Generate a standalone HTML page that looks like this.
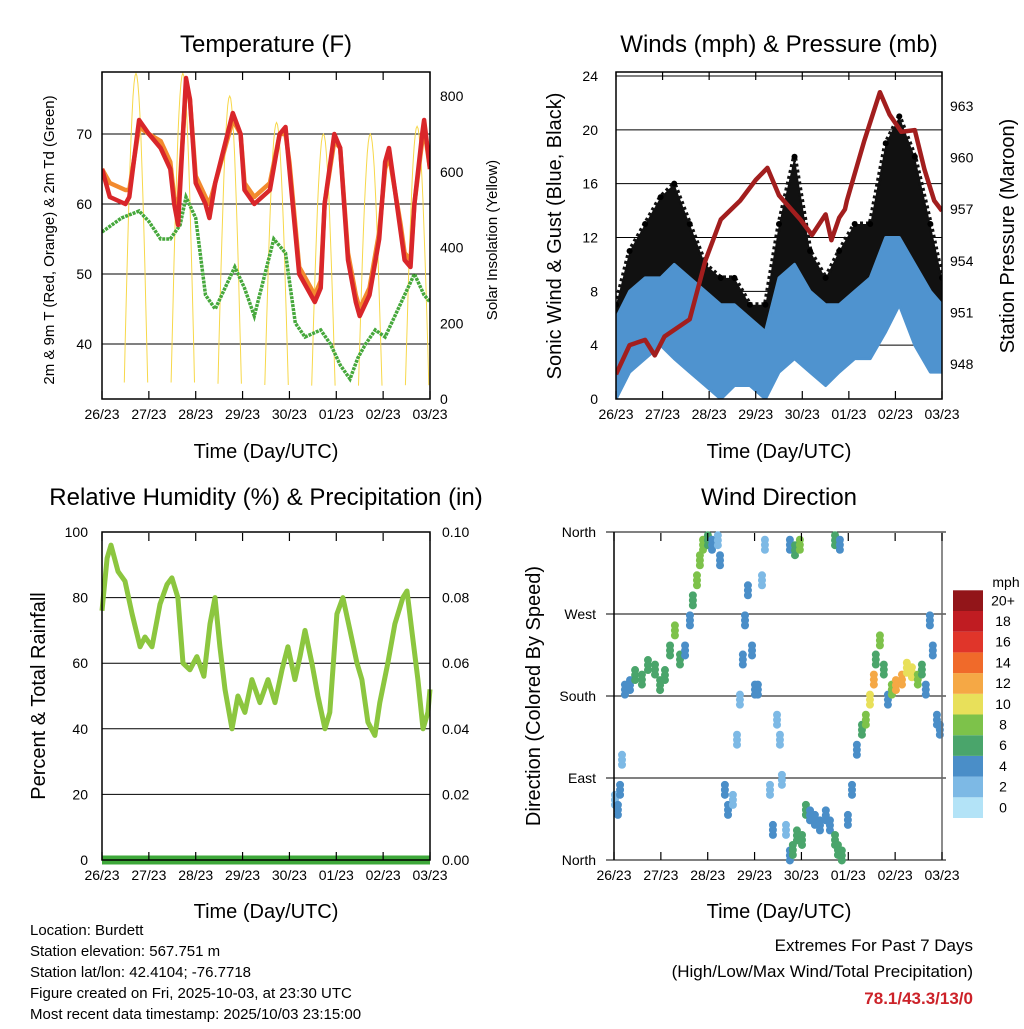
<!DOCTYPE html>
<html><head><meta charset="utf-8"><style>
body{margin:0;background:#fff;}
svg{font-family:"Liberation Sans",sans-serif;}
</style></head><body>
<svg id="c" width="1024" height="1024" viewBox="0 0 1024 1024" xmlns="http://www.w3.org/2000/svg"></svg>
<script>
// ---------- DATA ----------
const dayLabels=["26/23","27/23","28/23","29/23","30/23","01/23","02/23","03/23"];
const tHours=[0,4,12,14,19,24,30,35,37,39,43,45,48,53,55,58,67,71,73,78,86,91,94,96,101,109,112,114,119,122,126,130,132,137,142,145,147,150,153,155,158,160,164,165,168];
const tRed=[65,61,60,61,72,70,68,65,60,57,78,75,63,60,58,63,73,70,62,60,62,70,71,65,50,46,48,60,70,68,52,46,44,47,55,66,68,62,56,52,51,60,70,72,65];
const tOrange=[65,63,62,62,71,70,69,66,61,59,77,75,64,61,60,63,72,70,63,61,63,70,70,66,51,47,49,60,69,68,53,47,45,48,56,65,67,62,57,53,52,60,69,71,65];
const tdHours=[0,5,10,19,24,30,35,40,43,48,53,58,63,68,73,78,88,94,99,104,112,117,122,127,131,135,140,145,150,155,160,165,168];
const tdGreen=[56,57,58,59,57.5,55,55,57,61,58,47,45,48,51,48,44,55,53,43,41,42,40,37,35,38,40,42,41,44,47,50,47,46];
const solarPeakHours=[-6.6,17.4,41.4,65.4,89.4,113.4,137.4,161.4];
const solarPeaks=[850,860,860,800,730,700,700,720];
const wHours=[0,7,15,23,30,38,46,54,61,69,77,84,92,100,108,115,123,131,139,146,154,162,168];
const gustHi=[7,11,13,15,16,13,10,9,9,7,7,13,18,11,9,11,13,13,19,21,18,13,9];
const gustLo=[3,5,7,8,8,5,3,2,4,3,2,6,8,5,4,5,6,7,9,12,8,6,5];
const windHi=[6,8,9,9,10,9,8,7,7,6,5,9,10,8,7,7,8,9,12,12,10,8,7];
const windLo=[0,2,3,4,3,2,1,0,1,1,0,2,3,2,1,2,3,3,5,7,4,2,2];
const pHours=[0,7,15,20,25,38,46,54,64,72,78,84,95,101,108,111,115,118,119,128,136,141,147,154,159,164,168];
const pres=[947.4,949.1,949.4,948.5,949.6,950.6,954,956.4,957.5,958.7,959.4,957.8,956.4,955.5,956.7,955.2,956.5,957,957.5,961,963.8,962.5,961.5,961.6,959.3,957.5,956.9];
const rhHours=[0,2.6,4.6,8.2,11.8,15.4,19.5,22,25.6,29.7,33.3,35.8,38.9,41.5,45,48.6,52.2,55.3,57.9,60.4,63,66.6,69.6,73.2,76.8,80.9,85,88.6,92.2,95.2,98.8,101.4,104,107.5,110.6,114.2,116.7,120.3,123.4,127,130.6,133.1,136.2,139.8,142.3,146.4,150,154.1,156.2,158.7,161.8,164.4,166.9,168];
const rhVals=[76,92,96,88,85,75,65,68,65,78,84,86,80,60,58,62,56,72,80,65,52,40,50,45,55,48,55,48,58,65,55,62,70,60,50,40,45,75,80,70,60,55,42,38,48,60,72,80,82,70,55,40,45,52];
const precip=[0,0,0,0,0,0,0,0];
const dHours=[0.5,2,3.1,4.1,5.6,8.2,10.8,14.3,17.4,21,23.6,26.1,28.7,31.2,33.8,36.4,38.9,40.4,42.5,44,45.6,48.1,50.2,53.2,54.3,56.8,58.4,60.9,63,64.5,66,67.1,68.6,70.7,72.2,73.7,75.8,77.3,79.9,81.4,83.5,85,86,88.1,90.1,91.6,93.7,96.3,98.3,100.4,102.9,105.5,108.5,110.6,113.2,114.7,116.7,90.1,92.7,95.2,113.2,115.7,119.8,121.9,124.4,127,129,131.1,133.1,134.1,136.2,138.2,140.3,142.3,144.4,147.5,150,152.6,155.6,157.7,159.7,161.8,163.3,165.4,166.9];
const dDeg=[66,55,77,110,187,192,203,198,214,209,192,203,230,252,220,230,263,285,307,329,346,351,346,351,329,77,55,66,132,176,220,263,296,230,187,187,307,346,77,33,154,132,88,33,5,11,27,22,55,49,44,38,49,38,22,11,5,346,340,346,351,346,44,77,121,143,154,176,198,220,241,209,176,187,192,198,211,206,198,209,187,263,230,154,143];
const dSpeed=[2,4,3,2,4,4,5,6,5,5,5,6,6,8,5,4,4,6,8,8,8,6,4,2,3,4,3,2,2,2,3,3,4,4,4,3,2,2,2,3,1,1,1,2,3,6,6,5,6,4,4,4,4,4,6,6,5,4,6,8,6,4,3,3,3,5,8,10,12,6,8,6,4,8,12,12,10,10,8,6,4,4,4,4,4];
const cbLabels=["0","2","4","6","8","10","12","14","16","18","20+"];
const cbColors=["#b3e3f7","#7db9e5","#4a8ec8","#4aa56b","#7dc24a","#e8e05a","#f5a845","#f06a2a","#e0352a","#c01c22","#921519"];

// ---------- HELPERS ----------
const S=document.getElementById('c');const NS="http://www.w3.org/2000/svg";
function el(tag,attrs,parent,txt){const e=document.createElementNS(NS,tag);for(const k in attrs)e.setAttribute(k,attrs[k]);if(txt!==undefined)e.textContent=txt;(parent||S).appendChild(e);return e;}
function lin(d0,d1,r0,r1){return v=>r0+(v-d0)/(d1-d0)*(r1-r0);}
function txt(x,y,s,size,anchor,name,rot,fill,weight){const a={x:x,y:y,'font-size':size,'text-anchor':anchor||'middle',fill:fill||'#000'};if(rot)a.transform=`rotate(${rot} ${x} ${y})`;if(weight)a['font-weight']=weight;const t=el('text',a,S,s);return t;}
function frame(x0,y0,x1,y1,name){const r=el('rect',{x:x0,y:y0,width:x1-x0,height:y1-y0,fill:'none',stroke:'#000','stroke-width':1.5});}
function hline(x0,x1,y,name){const l=el('line',{x1:x0,x2:x1,y1:y,y2:y,stroke:'#000','stroke-width':1});}
function xTicks(x0,x1,y1,name){const g=el('g',{});const sx=lin(0,7,x0,x1);dayLabels.forEach((d,i)=>{const x=sx(i);el('line',{x1:x,x2:x,y1:y1,y2:y1-8,stroke:'#000','stroke-width':1.2},g);el('line',{x1:x,x2:x,y1:y1-327,y2:y1-319,stroke:'#000','stroke-width':1.2},g);const t=el('text',{x:x,y:y1+20,'font-size':14,'text-anchor':'middle'},g,d);});}
function path(pts){return pts.map((p,i)=>(i?'L':'M')+p[0].toFixed(1)+' '+p[1].toFixed(1)).join(' ');}

// ---------- PANEL 1: TEMPERATURE ----------
{const x0=102,x1=430,y0=72,y1=399;const sx=lin(0,168,x0,x1);const sy=lin(40,70,344,134);const ss=lin(0,800,399,96);
txt(266,52,'Temperature (F)',24,'middle','temperature-title');
[40,50,60,70].forEach(v=>{hline(x0,x1,sy(v),'temp-gridline');txt(x0-10,sy(v)+5,String(v),14,'end','temp-y-tick');});
[0,200,400,600,800].forEach(v=>txt(x1+10,ss(v)+5,String(v),14,'start','solar-y-tick'));
const cp=el('clipPath',{id:'cp1'});el('rect',{x:x0,y:y0,width:x1-x0,height:y1-y0},cp);
const g=el('g',{'clip-path':'url(#cp1)'});
solarPeakHours.forEach((h,i)=>{const pts=[];for(let k=-6;k<=6;k+=0.5){pts.push([sx(h+k),ss(solarPeaks[i]*Math.max(0,Math.cos(k/6.2*Math.PI/2)))]);}
 const p=el('path',{d:path(pts),fill:'none',stroke:'#f7d84a','stroke-width':1},g);});
let p=el('path',{d:path(tdHours.map((h,i)=>[sx(h),sy(tdGreen[i])])),fill:'none',stroke:'#46a83c','stroke-width':3.5,'stroke-dasharray':'3 1'},g);
p=el('path',{d:path(tHours.map((h,i)=>[sx(h),sy(tOrange[i])])),fill:'none',stroke:'#f28a2e','stroke-width':4.5,'stroke-linejoin':'round'},g);
p=el('path',{d:path(tHours.map((h,i)=>[sx(h),sy(tRed[i])])),fill:'none',stroke:'#d9262a','stroke-width':4.5,'stroke-linejoin':'round'},g);
frame(x0,y0,x1,y1,'temperature-frame');xTicks(x0,x1,y1,'temp-x-axis');
txt(266,458,'Time (Day/UTC)',20,'middle','temp-x-title');
txt(54,240,'2m & 9m T (Red, Orange) & 2m Td (Green)',15,'middle','temp-y-title',-90);
txt(497,240,'Solar Insolation (Yellow)',15,'middle','solar-y-title',-90);}

// ---------- PANEL 2: WINDS ----------
{const x0=616,x1=942,y0=72,y1=399;const sx=lin(0,168,x0,x1);const sy=lin(0,24,399,76);const sp=lin(948,963,364,106);
txt(779,52,'Winds (mph) & Pressure (mb)',24,'middle','winds-title');
[4,8,12,16,20,24].forEach(v=>hline(x0,x1,sy(v),'wind-gridline'));
[0,4,8,12,16,20,24].forEach(v=>txt(x0-18,sy(v)+5,String(v),14,'end','wind-y-tick'));
[948,951,954,957,960,963].forEach(v=>txt(x1+8,sp(v)+5,String(v),14,'start','pressure-y-tick'));
const cp=el('clipPath',{id:'cp2'});el('rect',{x:x0,y:y0,width:x1-x0,height:y1-y0},cp);
const g=el('g',{'clip-path':'url(#cp2)'});
let pts=wHours.map((h,i)=>[sx(h),sy(gustHi[i])]).concat(wHours.map((h,i)=>[sx(h),sy(gustLo[i])]).reverse());
let p=el('path',{d:path(pts)+'Z',fill:'#111',stroke:'#111','stroke-width':5,'stroke-linejoin':'round','stroke-dasharray':'3 3'},g);
wHours.forEach((h,i)=>{const c=el('circle',{cx:sx(h),cy:sy(gustHi[i]),r:3,fill:'#000'},g);});
pts=wHours.map((h,i)=>[sx(h),sy(windHi[i])]).concat(wHours.map((h,i)=>[sx(h),sy(windLo[i])]).reverse());
p=el('path',{d:path(pts)+'Z',fill:'#4f93cf',stroke:'#4f93cf','stroke-width':3,'stroke-linejoin':'round'},g);
p=el('path',{d:path(pHours.map((h,i)=>[sx(h),sp(pres[i])])),fill:'none',stroke:'#a21e1e','stroke-width':4.5,'stroke-linejoin':'round'},g);
frame(x0,y0,x1,y1,'winds-frame');xTicks(x0,x1,y1,'wind-x-axis');
txt(779,458,'Time (Day/UTC)',20,'middle','wind-x-title');
txt(561,236,'Sonic Wind & Gust (Blue, Black)',20,'middle','wind-y-title',-90);
txt(1014,236,'Station Pressure (Maroon)',20,'middle','pressure-y-title',-90);}

// ---------- PANEL 3: RH ----------
{const x0=102,x1=430,y0=532,y1=860;const sx=lin(0,168,x0,x1);const sy=lin(0,100,860,532);const sr=lin(0,0.1,860,532);
txt(266,505,'Relative Humidity (%) & Precipitation (in)',24,'middle','rh-title');
[20,40,60,80].forEach(v=>hline(x0,x1,sy(v),'rh-gridline'));
[0,20,40,60,80,100].forEach(v=>txt(x0-14,sy(v)+5,String(v),14,'end','rh-y-tick'));
['0.00','0.02','0.04','0.06','0.08','0.10'].forEach((v,i)=>txt(x1+12,sr(i*0.02)+5,v,14,'start','precip-y-tick'));
let p=el('path',{d:path(rhHours.map((h,i)=>[sx(h),sy(rhVals[i])])),fill:'none',stroke:'#8cc63f','stroke-width':5,'stroke-linejoin':'round'});
p=el('path',{d:path(precip.map((v,i)=>[sx(i*24),sr(v)])),fill:'none',stroke:'#3ea83a','stroke-width':9});
frame(x0,y0,x1,y1,'rh-frame');xTicks(x0,x1,y1,'rh-x-axis');
txt(266,918,'Time (Day/UTC)',20,'middle','rh-x-title');
txt(45,696,'Percent & Total Rainfall',20,'middle','rh-y-title',-90);}

// ---------- PANEL 4: WIND DIRECTION ----------
{const x0=614,x1=942,y0=532,y1=860;const sx=lin(0,168,x0,x1);const sy=lin(0,360,860,532);
txt(779,505,'Wind Direction',24,'middle','direction-title');
[0,90,180,270,360].forEach(v=>hline(606,x1+4,sy(v),'direction-gridline'));
['North','East','South','West','North'].forEach((n,i)=>txt(596,sy(i*90)+5,n,14,'end','direction-y-tick'));
const g=el('g',{});
dHours.forEach((h,i)=>{const ci=Math.min(10,Math.round(dSpeed[i]/2));[-5,0,5].forEach(o=>{const c=el('circle',{cx:sx(h),cy:sy(dDeg[i])+o,r:4,fill:cbColors[ci]},g);});});
const fr=el('line',{x1:x0,x2:x0,y1:y0,y2:y1,stroke:'#000','stroke-width':1.5});
const fr2=el('line',{x1:x1,x2:x1,y1:y0,y2:y1,stroke:'#666','stroke-width':1.5});
xTicks(x0,x1,y1,'direction-x-axis');
txt(779,918,'Time (Day/UTC)',20,'middle','direction-x-title');
txt(540,696,'Direction (Colored By Speed)',20,'middle','direction-y-title',-90);
const cb=el('g',{});
cbColors.forEach((c,i)=>{const y=818-(i+1)*20.7;const r=el('rect',{x:953,y:y,width:30,height:20.7,fill:c},cb);
 const t=el('text',{x:1003,y:y+15,'font-size':14,'text-anchor':'middle'},cb,cbLabels[i]);});
txt(1006,587,'mph',14,'middle','colorbar-title');}

// ---------- FOOTER ----------
['Location: Burdett','Station elevation: 567.751 m','Station lat/lon: 42.4104; -76.7718','Figure created on Fri, 2025-10-03, at 23:30 UTC','Most recent data timestamp: 2025/10/03 23:15:00'].forEach((s,i)=>txt(30,935+i*21,s,15,'start','footer-info-line'));
txt(973,951,'Extremes For Past 7 Days',17,'end','extremes-title');
txt(973,977,'(High/Low/Max Wind/Total Precipitation)',17,'end','extremes-subtitle');
txt(973,1004,'78.1/43.3/13/0',17,'end','extremes-values',0,'#cc2229','bold');
</script>
</body></html>
